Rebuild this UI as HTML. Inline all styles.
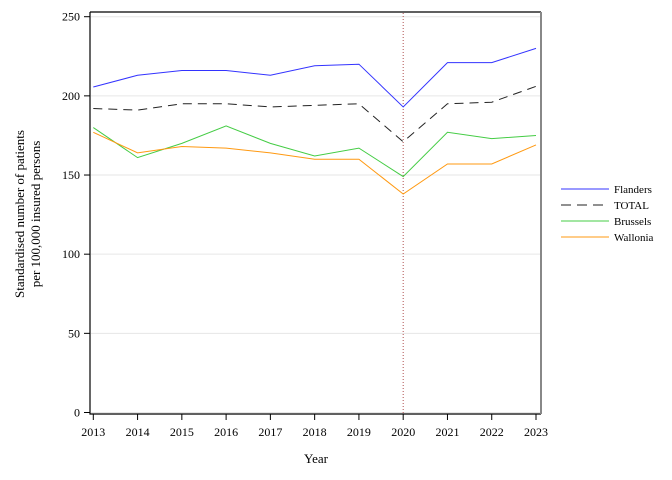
<!DOCTYPE html>
<html><head><meta charset="utf-8"><style>
body{margin:0;background:#fff;}
svg{display:block;font-family:"Liberation Serif",serif;}
</style></head><body>
<svg id="chart" width="672" height="480" xmlns="http://www.w3.org/2000/svg"></svg>
<script>
const years=[2013,2014,2015,2016,2017,2018,2019,2020,2021,2022,2023];
const flanders=[205.6,213,216,216,213,219,220,193,221,221,230];
const total=[192,191,195,195,193,194,195,171,195,196,206];
const brussels=[180,161,170,181,170,162,167,149,177,173,175];
const wallonia=[177,164,168,167,164,160,160,138,157,157,169];
const yTicks=[0,50,100,150,200,250];
const seriesNames=["Flanders","TOTAL","Brussels","Wallonia"];
const refYear=2020;

const NS="http://www.w3.org/2000/svg";
const svg=document.getElementById('chart');
function X(v){return 93.3+(v-2013)*44.27;}
function Y(v){return 412.5-v*1.5832;}
function el(t,a,p){const e=document.createElementNS(NS,t);for(const k in a)e.setAttribute(k,a[k]);(p||svg).appendChild(e);return e;}

// gridlines
yTicks.forEach(t=>{
  const g=el('line',{x1:91,x2:540,y1:Y(t),y2:Y(t),stroke:'#e6e6e6','stroke-width':1});
  
  
  const tk=el('line',{x1:84,x2:90,y1:Y(t),y2:Y(t),stroke:'#000'});
  
  
  const tx=el('text',{x:80,y:Y(t)+4,'text-anchor':'end','font-size':12});
  tx.textContent=t;
  
  
});
years.forEach(y=>{
  const tk=el('line',{x1:X(y),x2:X(y),y1:414,y2:420,stroke:'#000'});
  
  
  const tx=el('text',{x:X(y),y:436,'text-anchor':'middle','font-size':12});
  tx.textContent=y;
  
  
});
// frame
const fr=el('path',{d:'M90,12 H541 M90,12 V414 H541',stroke:'#000',fill:'none','stroke-width':1.2});


const rb=el('line',{x1:541,x2:541,y1:12,y2:414,stroke:'#888','stroke-width':2});


// reference line
const rl=el('line',{x1:X(refYear),x2:X(refYear),y1:13,y2:414,stroke:'#b05050','stroke-width':1,'stroke-dasharray':'1,2'});



const styles=[
 {c:'#3333ff',d:null,data:flanders},
 {c:'#222222',d:'9,6',data:total},
 {c:'#44cc44',d:null,data:brussels},
 {c:'#ff9911',d:null,data:wallonia}];
styles.forEach((s,i)=>{
  const pts=s.data.map((v,j)=>X(years[j])+','+Y(v)).join(' ');
  const a={points:pts,fill:'none',stroke:s.c,'stroke-width':1};
  if(s.d)a['stroke-dasharray']=s.d;
  const pl=el('polyline',a);
  
  
  const ly=189+i*16;
  const la={x1:561,x2:609,y1:ly,y2:ly,stroke:s.c,'stroke-width':1};
  if(s.d)la['stroke-dasharray']='10,6';
  const ll=el('line',la);
  
  
  const lt=el('text',{x:614,y:ly+4,'font-size':11});
  lt.textContent=seriesNames[i];
  
  
});
const xt=el('text',{x:316,y:463,'text-anchor':'middle','font-size':13});
xt.textContent='Year';


const yt=el('text',{transform:'translate(24,214) rotate(-90)','text-anchor':'middle','font-size':13});


const t1=el('tspan',{x:0,dy:0},yt);t1.textContent='Standardised number of patients';
const t2=el('tspan',{x:0,dy:16},yt);t2.textContent='per 100,000 insured persons';
</script>
</body></html>
